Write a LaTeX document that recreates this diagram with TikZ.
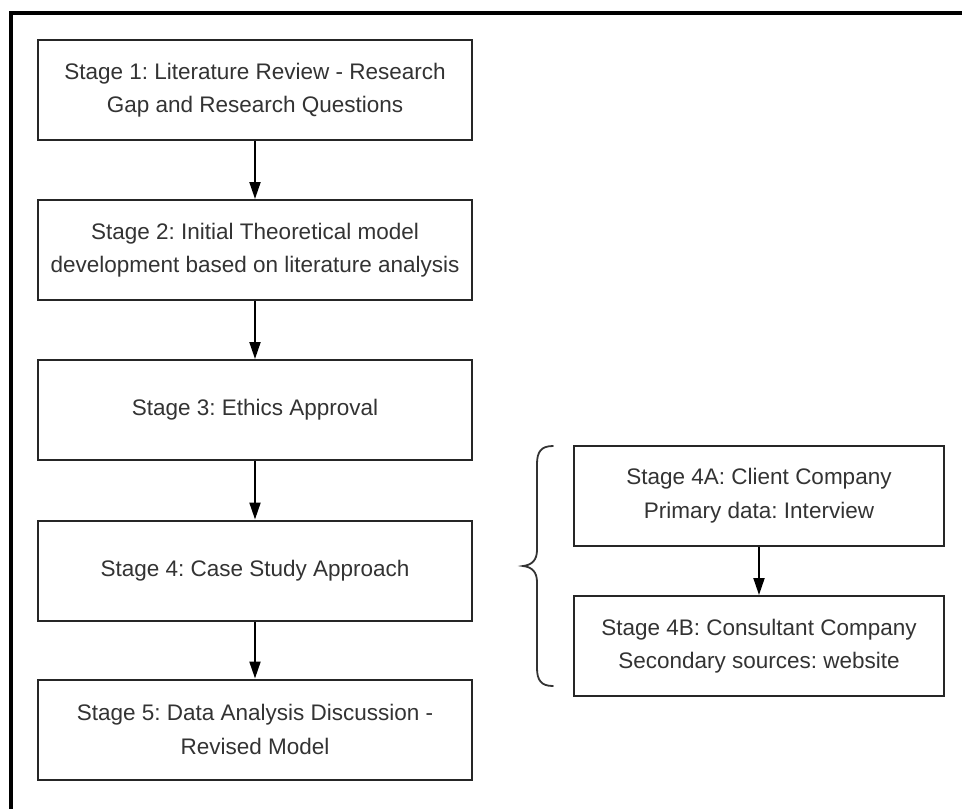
\documentclass[tikz,border=0pt]{standalone}
\usepackage{fontspec}
\setmainfont{Liberation Sans}
\usetikzlibrary{arrows.meta}
\frenchspacing
\begin{document}
\begin{tikzpicture}[x=1pt,y=-1pt,
  stagebox/.style={draw=black!85,line width=2pt,rectangle,align=center,
    text=black!80,font=\fontsize{22.5}{33.5}\selectfont,inner sep=0pt},
  mainbox/.style={stagebox,minimum width=434pt,minimum height=100pt},
  sidebox/.style={stagebox,minimum width=370pt,minimum height=100pt},
  flow/.style={draw=black,line width=2pt,-{Triangle[width=11pt,length=17pt]}}]
\useasboundingbox (0,0) rectangle (962,809);
\fill[white] (0,0) rectangle (962,809);
% outer frame (top and left)
\draw[line width=4pt,black] (11,809) -- (11,13) -- (962,13);
% main column
\node[mainbox] (s1) at (255,90) {Stage 1: Literature Review - Research\\Gap and Research Questions};
\node[mainbox] (s2) at (255,250) {Stage 2: Initial Theoretical model\\development based on literature analysis};
\node[mainbox] (s3) at (255,410) {Stage 3: Ethics Approval};
\node[mainbox] (s4) at (255,570.5) {Stage 4: Case Study Approach};
\node[mainbox] (s5) at (255,729.5) {Stage 5: Data Analysis Discussion -\\Revised Model};
% side column
\node[sidebox] (s4a) at (759,495.5) {Stage 4A: Client Company\\Primary data: Interview};
\node[sidebox] (s4b) at (759,646) {Stage 4B: Consultant Company\\Secondary sources: website};
% arrows
\draw[flow] (s1) -- (s2);
\draw[flow] (s2) -- (s3);
\draw[flow] (s3) -- (s4);
\draw[flow] (s4) -- (s5);
\draw[flow] (s4a) -- (s4b);
% brace
\draw[black!80,line width=1.8pt,line cap=round]
  (553,446) .. controls (541,446) and (537,452) .. (537,464)
  -- (537,550) .. controls (537,560) and (532,565) .. (523,566)
  .. controls (532,567) and (537,572) .. (537,582)
  -- (537,668) .. controls (537,680) and (541,686) .. (553,686);
\end{tikzpicture}
\end{document}
